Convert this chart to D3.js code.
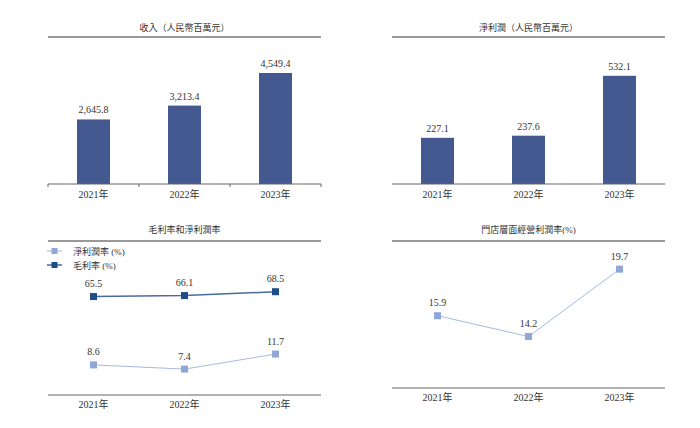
<!DOCTYPE html>
<html>
<head>
<meta charset="utf-8">
<script src="https://cdn.jsdelivr.net/npm/d3@7"></script>
<style>
  body { margin: 0; background: #fff; }
  text { font-family: "Liberation Serif", "Noto Sans CJK TC", serif; fill: #333; }
</style>
</head>
<body>
<script>
// data
const years = ["2021年", "2022年", "2023年"];
const revenue = [2645.8, 3213.4, 4549.4];
const netProfit = [227.1, 237.6, 532.1];
const grossMargin = [65.5, 66.1, 68.5];
const netMargin = [8.6, 7.4, 11.7];
const storeMargin = [15.9, 14.2, 19.7];

const titles = ["收入（人民幣百萬元）", "淨利潤（人民幣百萬元）", "毛利率和淨利潤率", "門店層面經營利潤率(%)"];
const legendNames = ["淨利潤率 (%)", "毛利率 (%)"];

const barColor = "#44598f";
const darkBlue = "#1f4c8a";
const lightBlue = "#8fa7d6";

const width = 700;
const height = 428;
const svg = d3.select("body")
    .append("svg")
    .attr("width", width)
    .attr("height", height);

const fmt = d3.format(",.1f");

// x scales for left and right column
const xLeft = d3.scalePoint().domain(years).range([48, 321]).padding(0.5);
const xRight = d3.scalePoint().domain(years).range([392, 665]).padding(0.5);

function header(x, title, ty, ry) {
    const r = x.range();
    svg.append("text")
        .attr("x", (r[0] + r[1]) / 2)
        .attr("y", ty)
        .attr("text-anchor", "middle")
        .attr("font-size", 9)
        .text(title);
    svg.append("line")
        .attr("x1", r[0]).attr("x2", r[1])
        .attr("y1", ry).attr("y2", ry)
        .attr("stroke", "#777")
        .attr("stroke-width", 1.5);
}

function baseline(x, y, yearY, ticks) {
    const r = x.range();
    svg.append("line")
        .attr("x1", r[0]).attr("x2", r[1])
        .attr("y1", y).attr("y2", y)
        .attr("stroke", "#666")
        .attr("stroke-width", 1.2);
    if (ticks) {
        const step = x.step();
        const pos = d3.range(years.length + 1).map(i => r[0] + i * step);
        svg.selectAll(null).data(pos).enter().append("line")
            .attr("x1", d => d).attr("x2", d => d)
            .attr("y1", y).attr("y2", y + 3)
            .attr("stroke", "#666");
    }
    svg.selectAll(null).data(years).enter().append("text")
        .attr("x", d => x(d))
        .attr("y", yearY)
        .attr("text-anchor", "middle")
        .attr("font-size", 10)
        .text(d => d);
}

function bars(x, values, yMax) {
    const y = d3.scaleLinear().domain([0, yMax]).range([184, 62]);
    const bw = 33;
    svg.selectAll(null).data(values).enter().append("rect")
        .attr("x", (d, i) => x(years[i]) - bw / 2)
        .attr("y", d => y(d))
        .attr("width", bw)
        .attr("height", d => y(0) - y(d))
        .attr("fill", barColor);
    svg.selectAll(null).data(values).enter().append("text")
        .attr("x", (d, i) => x(years[i]))
        .attr("y", d => y(d) - 6)
        .attr("text-anchor", "middle")
        .attr("font-size", 10)
        .text(d => fmt(d));
}

function series(x, y, values, color, lineColor, lw) {
    const line = d3.line()
        .x((d, i) => x(years[i]))
        .y(d => y(d));
    svg.append("path")
        .datum(values)
        .attr("d", line)
        .attr("fill", "none")
        .attr("stroke", lineColor)
        .attr("stroke-width", lw);
    svg.selectAll(null).data(values).enter().append("rect")
        .attr("x", (d, i) => x(years[i]) - 3.5)
        .attr("y", d => y(d) - 3.5)
        .attr("width", 7)
        .attr("height", 7)
        .attr("fill", color);
    svg.selectAll(null).data(values).enter().append("text")
        .attr("x", (d, i) => x(years[i]))
        .attr("y", d => y(d) - 9.5)
        .attr("text-anchor", "middle")
        .attr("font-size", 10)
        .text(d => d.toFixed(1));
}

// top left: revenue
header(xLeft, titles[0], 30.5, 37);
bars(xLeft, revenue, 5000);
baseline(xLeft, 184, 198, true);

// top right: net profit
header(xRight, titles[1], 30.5, 37);
bars(xRight, netProfit, 600);
baseline(xRight, 184, 198, false);

// bottom left: margins (two scales)
header(xLeft, titles[2], 233, 241);
const yGross = d3.scaleLinear().domain([0, 100]).range([402, 241]);
const yNet = d3.scaleLinear().domain([0, 44]).range([395, 241]);
series(xLeft, yNet, netMargin, lightBlue, "#a7b9e0", 1);
series(xLeft, yGross, grossMargin, darkBlue, "#4a6b9d", 1.5);
baseline(xLeft, 395, 408, false);

// legend
const legendColors = [[lightBlue, "#a7b9e0"], [darkBlue, "#4a6b9d"]];
const legendY = [251, 265];
legendNames.forEach((name, i) => {
    svg.append("line")
        .attr("x1", 47).attr("x2", 62)
        .attr("y1", legendY[i]).attr("y2", legendY[i])
        .attr("stroke", legendColors[i][1])
        .attr("stroke-width", i == 1 ? 1.5 : 1);
    svg.append("rect")
        .attr("x", 51.5).attr("y", legendY[i] - 3)
        .attr("width", 6).attr("height", 6)
        .attr("fill", legendColors[i][0]);
    svg.append("text")
        .attr("x", 73)
        .attr("y", legendY[i] + 3.5)
        .attr("font-size", 9)
        .text(name);
});

// bottom right: store level margin
header(xRight, titles[3], 233, 241);
const yStore = d3.scaleLinear().domain([10, 22]).range([388, 241]);
series(xRight, yStore, storeMargin, lightBlue, "#a7b9e0", 1);
baseline(xRight, 388, 401, false);
</script>
</body>
</html>
